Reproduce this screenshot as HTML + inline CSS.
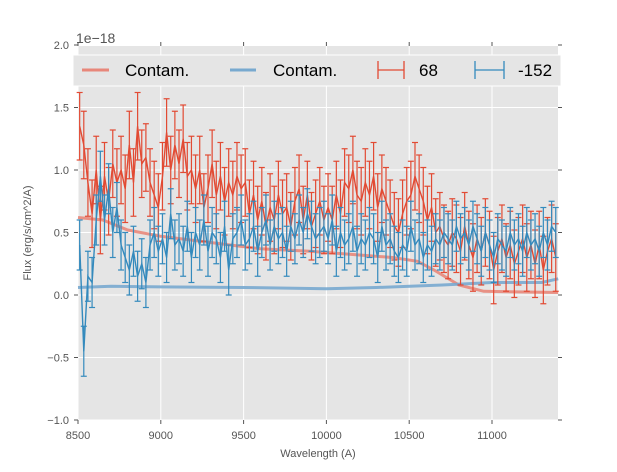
<!DOCTYPE html>
<html><head><meta charset="utf-8"><style>
body{margin:0;background:#fff;}
svg text{font-family:"Liberation Sans",sans-serif;}
</style></head><body>
<svg id="chart" width="617" height="467" xmlns="http://www.w3.org/2000/svg">
<rect x="78" y="46" width="480" height="374" fill="#e5e5e5"/>
<g id="grid"></g>
<g id="series"></g>
<g id="axes"></g>
<text x="76" y="43" font-size="14" fill="#555">1e−18</text>
<text x="31" y="233" font-size="11" fill="#555" text-anchor="middle" transform="rotate(-90 31 233)">Flux (erg/s/cm^2/A)</text>
<text x="318" y="457" font-size="11" fill="#555" text-anchor="middle">Wavelength (A)</text>
<g>
<rect x="73" y="55" width="488" height="31" fill="#e5e5e5" stroke="#fff" stroke-width="1"/>
<g><line x1="82" y1="70" x2="109" y2="70" stroke="#e8877a" stroke-width="3"/><text x="125" y="76" font-size="17">Contam.</text></g>
<g><line x1="230" y1="70" x2="256" y2="70" stroke="#78a9cf" stroke-width="3"/><text x="273" y="76" font-size="17">Contam.</text></g>
<g stroke="#e24a33" stroke-width="1.3"><line x1="378" y1="70" x2="404" y2="70"/><line x1="378" y1="61" x2="378" y2="79"/><line x1="404" y1="61" x2="404" y2="79"/><text x="419" y="76" font-size="17" stroke="none">68</text></g>
<g stroke="#348abd" stroke-width="1.3"><line x1="475" y1="70" x2="504" y2="70"/><line x1="475" y1="61" x2="475" y2="79"/><line x1="504" y1="61" x2="504" y2="79"/><text x="518" y="76" font-size="17" stroke="none">-152</text></g>
</g>
</svg>
<script>
const xTicks=[8500,9000,9500,10000,10500,11000];
const yTicks=[-1.0,-0.5,0.0,0.5,1.0,1.5,2.0];
const yTickLabels=["−1.0","−0.5","0.0","0.5","1.0","1.5","2.0"];
const wlStart=8510, wlStep=25;
const red=[1.35,1.2,0.9,0.65,1.0,0.6,0.95,0.75,1.05,0.9,
1.0,0.85,1.2,0.9,1.35,1.05,1.1,0.9,0.8,0.7,
0.95,1.3,1.0,1.2,1.05,1.25,0.95,1.0,0.85,1.0,
0.7,0.85,1.05,0.8,0.95,0.75,0.9,0.8,0.95,0.85,
0.9,0.65,0.8,0.6,0.75,0.55,0.7,0.6,0.8,0.65,
0.7,0.55,0.75,0.85,0.6,0.8,0.55,0.65,0.75,0.6,
0.7,0.6,0.8,0.65,0.9,0.85,1.0,0.8,0.75,0.9,
0.8,0.95,0.7,0.85,0.75,0.65,0.55,0.5,0.65,0.75,
0.8,0.95,0.85,0.75,0.6,0.7,0.5,0.55,0.45,0.4,
0.5,0.45,0.35,0.55,0.4,0.3,0.45,0.35,0.5,0.4,
0.2,0.35,0.45,0.3,0.4,0.25,0.35,0.45,0.3,0.4,
0.25,0.4,0.2,0.35,0.45,0.3];
const blue=[0.4,-0.45,0.15,0.1,0.6,0.95,0.6,0.85,0.5,0.7,
0.4,0.3,0.2,0.35,0.15,0.25,0.1,0.4,0.5,0.35,
0.45,0.3,0.65,0.4,0.45,0.35,0.55,0.3,0.5,0.4,
0.6,0.35,0.5,0.45,0.3,0.55,0.2,0.45,0.5,0.6,
0.4,0.45,0.55,0.35,0.5,0.6,0.4,0.55,0.45,0.5,
0.35,0.55,0.45,0.6,0.5,0.65,0.55,0.45,0.5,0.55,
0.45,0.6,0.35,0.5,0.4,0.45,0.55,0.35,0.45,0.4,
0.5,0.45,0.3,0.55,0.4,0.45,0.35,0.3,0.4,0.35,
0.55,0.4,0.45,0.3,0.4,0.35,0.45,0.4,0.5,0.45,
0.4,0.55,0.45,0.5,0.4,0.55,0.45,0.35,0.5,0.4,
0.3,0.45,0.4,0.35,0.5,0.4,0.45,0.35,0.5,0.4,
0.45,0.35,0.5,0.4,0.55,0.5];
const redErr=0.27, blueErr=0.2;
const contamWl=[8500,8650,8800,9000,9300,9600,9900,10100,10400,10550,10650,10800,10950,11400];
const contamRed=[0.62,0.6,0.52,0.47,0.42,0.37,0.35,0.33,0.3,0.27,0.2,0.08,0.03,0.02];
const contamBlueWl=[8500,8700,9000,9500,10000,10300,10700,11000,11300,11400];
const contamBlue=[0.06,0.07,0.065,0.06,0.05,0.06,0.08,0.1,0.1,0.13];
const NS="http://www.w3.org/2000/svg";
const X=v=>78+(v-8500)/500*82.8;
const Y=v=>295-v*125;
function mk(t,a,p){const e=document.createElementNS(NS,t);for(const k in a)e.setAttribute(k,a[k]);p.appendChild(e);return e;}
const grid=document.getElementById('grid'),axes=document.getElementById('axes'),ser=document.getElementById('series');
xTicks.forEach(v=>{const l=mk('line',{x1:X(v),x2:X(v),y1:46,y2:420,stroke:'#fff','stroke-width':1},grid);

const t=mk('text',{x:X(v),y:439,'font-size':11,fill:'#555','text-anchor':'middle'},axes);t.textContent=v;

mk('line',{x1:X(v),x2:X(v),y1:420,y2:424,stroke:'#555'},axes);mk('line',{x1:X(v),x2:X(v),y1:46,y2:42,stroke:'#555'},axes);});
yTicks.forEach((v,i)=>{const l=mk('line',{x1:78,x2:558,y1:Y(v),y2:Y(v),stroke:'#fff','stroke-width':1},grid);

const t=mk('text',{x:69,y:Y(v)+4,'font-size':11,fill:'#555','text-anchor':'end'},axes);t.textContent=yTickLabels[i];

mk('line',{x1:74,x2:78,y1:Y(v),y2:Y(v),stroke:'#555'},axes);mk('line',{x1:558,x2:562,y1:Y(v),y2:Y(v),stroke:'#555'},axes);});
function line(xs,ys,col,w,op,name){const d=xs.map((x,i)=>(i?'L':'M')+X(x).toFixed(1)+','+Y(ys[i]).toFixed(1)).join('');
const p=mk('path',{d:d,fill:'none',stroke:col,'stroke-width':w,opacity:op},ser);
}
function errs(vals,err,col,name){const g=mk('g',{stroke:col,'stroke-width':1.2},ser);

vals.forEach((v,i)=>{const x=X(wlStart+i*wlStep);if(x>558)return;
mk('line',{x1:x,x2:x,y1:Y(v-err),y2:Y(v+err)},g);
mk('line',{x1:x-3,x2:x+3,y1:Y(v-err),y2:Y(v-err)},g);mk('line',{x1:x-3,x2:x+3,y1:Y(v+err),y2:Y(v+err)},g);});
const xs=vals.map((v,i)=>wlStart+i*wlStep);line(xs,vals,col,1.4,1,name+'-line');}
line(contamWl,contamRed,'#e8877a',3,0.9,'contam-red-line');
line(contamBlueWl,contamBlue,'#78a9cf',3,0.9,'contam-blue-line');
errs(red,redErr,'#e24a33','series-68');
errs(blue,blueErr,'#348abd','series-minus152');
</script>
</body></html>
